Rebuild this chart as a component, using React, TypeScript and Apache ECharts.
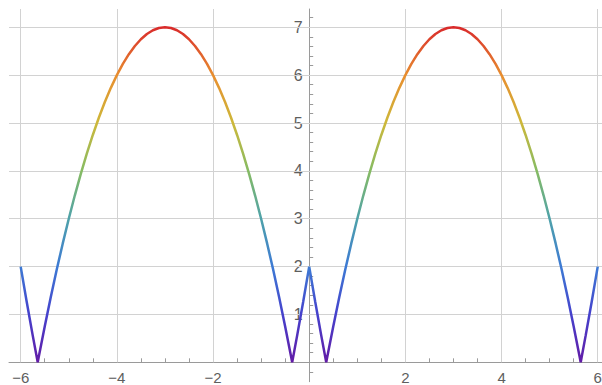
import React, { useEffect, useRef } from "react";
import * as echarts from "echarts";

// Curve samples, as [x, y]
const curveLeft: [number, number][] = [
  [-6, 2], [-5.875, 1.2656], [-5.75, 0.5625], [-5.646, 0], [-5.625, 0.1094], [-5.5, 0.75],
  [-5.375, 1.3594], [-5.25, 1.9375], [-5.125, 2.4844], [-5, 3], [-4.875, 3.4844],
  [-4.75, 3.9375], [-4.625, 4.3594], [-4.5, 4.75], [-4.375, 5.1094], [-4.25, 5.4375],
  [-4.125, 5.7344], [-4, 6], [-3.875, 6.2344], [-3.75, 6.4375], [-3.625, 6.6094],
  [-3.5, 6.75], [-3.375, 6.8594], [-3.25, 6.9375], [-3.125, 6.9844], [-3, 7],
  [-2.875, 6.9844], [-2.75, 6.9375], [-2.625, 6.8594], [-2.5, 6.75], [-2.375, 6.6094],
  [-2.25, 6.4375], [-2.125, 6.2344], [-2, 6], [-1.875, 5.7344], [-1.75, 5.4375],
  [-1.625, 5.1094], [-1.5, 4.75], [-1.375, 4.3594], [-1.25, 3.9375], [-1.125, 3.4844],
  [-1, 3], [-0.875, 2.4844], [-0.75, 1.9375], [-0.625, 1.3594], [-0.5, 0.75],
  [-0.375, 0.1094], [-0.354, 0], [-0.25, 0.5625], [-0.125, 1.2656], [0, 2],
];
const curveRight: [number, number][] = [
  [0.125, 1.2656], [0.25, 0.5625], [0.354, 0], [0.375, 0.1094], [0.5, 0.75],
  [0.625, 1.3594], [0.75, 1.9375], [0.875, 2.4844], [1, 3], [1.125, 3.4844],
  [1.25, 3.9375], [1.375, 4.3594], [1.5, 4.75], [1.625, 5.1094], [1.75, 5.4375],
  [1.875, 5.7344], [2, 6], [2.125, 6.2344], [2.25, 6.4375], [2.375, 6.6094],
  [2.5, 6.75], [2.625, 6.8594], [2.75, 6.9375], [2.875, 6.9844], [3, 7],
  [3.125, 6.9844], [3.25, 6.9375], [3.375, 6.8594], [3.5, 6.75], [3.625, 6.6094],
  [3.75, 6.4375], [3.875, 6.2344], [4, 6], [4.125, 5.7344], [4.25, 5.4375],
  [4.375, 5.1094], [4.5, 4.75], [4.625, 4.3594], [4.75, 3.9375], [4.875, 3.4844],
  [5, 3], [5.125, 2.4844], [5.25, 1.9375], [5.375, 1.3594], [5.5, 0.75],
  [5.625, 0.1094], [5.646, 0], [5.75, 0.5625], [5.875, 1.2656], [6, 2],
];

const xLabelValues = [-6, -4, -2, 2, 4, 6];
const yLabelValues = [1, 2, 3, 4, 5, 6, 7];
const xGridValues = [-6, -4, -2, 2, 4, 6];
const yGridValues = [1, 2, 3, 4, 5, 6, 7];
const xMinorTicks = [
  -6, -5.5, -5, -4.5, -4, -3.5, -3, -2.5, -2, -1.5, -1, -0.5,
  0.5, 1, 1.5, 2, 2.5, 3, 3.5, 4, 4.5, 5, 5.5, 6,
];
const yMinorTicks: number[] = [];
for (let i = -1; i <= 36; i++) yMinorTicks.push(Math.round(i * 0.2 * 1000) / 1000);

const X_MIN = -6.243;
const X_MAX = 6.089;
const Y_MIN = -0.405;
const Y_MAX = 7.382;

const rainbow = [
  "#621ba6",
  "#4541cc",
  "#3d7ad4",
  "#4fa2aa",
  "#86bb63",
  "#cdb83a",
  "#e88e2f",
  "#d92b2b",
];

const fmt = (v: number) => (v < 0 ? "\u2212" + Math.abs(v) : String(v));

const GRID = { left: 9, right: 0, top: 9, bottom: 3.3 };
const W = 602;
const H = 385;

export default function App() {
  const ref = useRef<HTMLDivElement>(null);
  useEffect(() => {
    document.body.style.margin = "0";
    const chart = echarts.init(ref.current!, undefined, { renderer: "svg" });
    const font = "'Liberation Sans', Arial, sans-serif";
    const plotW = W - GRID.left - GRID.right;
    const plotH = H - GRID.top - GRID.bottom;
    // offsets so the axes sit at x = 0 and y = 0
    const yAxisOffset = -((0 - X_MIN) / (X_MAX - X_MIN)) * plotW;
    const xAxisOffset = -((0 - Y_MIN) / (Y_MAX - Y_MIN)) * plotH;
    const gridLines: any[] = [];
    xGridValues.forEach((x) =>
      gridLines.push([{ coord: [x, 0] }, { coord: [x, Y_MAX] }])
    );
    yGridValues.forEach((y) =>
      gridLines.push([{ coord: [X_MIN, y] }, { coord: [X_MAX, y] }])
    );
    chart.setOption({
      animation: false,
      backgroundColor: "#ffffff",
      grid: { ...GRID, containLabel: false, outerBoundsMode: "none" },
      xAxis: {
        type: "value",
        min: X_MIN,
        max: X_MAX,
        position: "bottom",
        offset: xAxisOffset,
        axisLine: { onZero: false, lineStyle: { color: "#9a9a9a", width: 1 } },
        axisTick: {
          show: true,
          inside: true,
          length: 4,
          customValues: xMinorTicks,
          lineStyle: { color: "#9a9a9a", width: 1 },
        },
        axisLabel: {
          customValues: xLabelValues,
          formatter: fmt,
          color: "#5e5e5e",
          fontSize: 15,
          lineHeight: 11,
          fontFamily: font,
          margin: 9.5,
        },
        splitLine: { show: false },
      },
      yAxis: {
        type: "value",
        min: Y_MIN,
        max: Y_MAX,
        position: "left",
        offset: yAxisOffset,
        axisLine: { show: true, onZero: false, lineStyle: { color: "#9a9a9a", width: 1 } },
        axisTick: {
          show: true,
          inside: true,
          length: 4,
          customValues: yMinorTicks,
          lineStyle: { color: "#9a9a9a", width: 1 },
        },
        axisLabel: {
          customValues: yLabelValues,
          formatter: fmt,
          color: "#5e5e5e",
          fontSize: 16,
          fontFamily: font,
          margin: 6.5,
        },
        splitLine: { show: false },
      },
      visualMap: {
        show: false,
        type: "continuous",
        seriesIndex: 0,
        dimension: 1,
        min: 0,
        max: 7,
        inRange: { color: rainbow },
      },
      series: [
        {
          type: "line",
          data: [...curveLeft, ...curveRight],
          showSymbol: false,
          symbol: "none",
          lineStyle: { width: 2.5 },
          z: 5,
        },
        {
          type: "line",
          data: [],
          silent: true,
          z: 1,
          markLine: {
            silent: true,
            symbol: "none",
            label: { show: false },
            lineStyle: { color: "#d2d2d2", width: 1, type: "solid" },
            data: gridLines,
          },
        },
      ],
    });
    return () => chart.dispose();
  }, []);
  return <div ref={ref} style={{ width: W, height: H }} />;
}
